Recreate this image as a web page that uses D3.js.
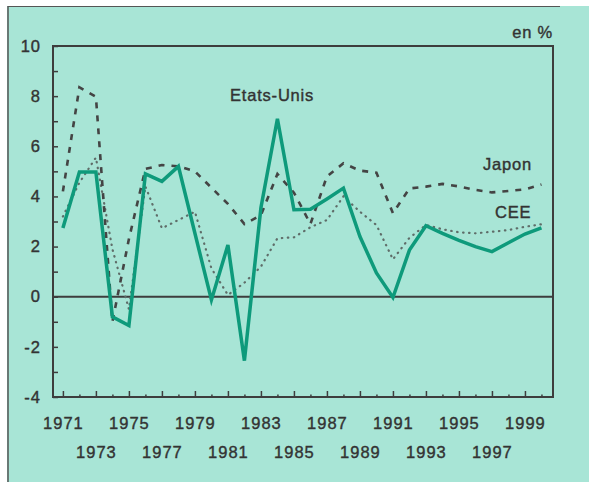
<!DOCTYPE html>
<html>
<head>
<meta charset="utf-8">
<script src="https://cdn.jsdelivr.net/npm/d3@7"></script>
<style>
  body { margin: 0; background: #fff; }
  svg text { font-family: "Liberation Sans", Arial, sans-serif; fill: #333; stroke: #333; stroke-width: 0.4px; }
</style>
</head>
<body>
<script>
// Chart size
const width = 589;
const height = 482;
const margin = { top: 46, right: 36, bottom: 85, left: 53 };

// Data: yearly growth in %
const years = d3.range(1971, 2001);
const etatsUnis = [2.74, 4.97, 4.97, -0.8, -1.15, 4.9, 4.6, 5.2, 2.53, -0.13,
  2.06, -2.55, 3.55, 7.1, 3.47, 3.49, 3.9, 4.33, 2.4, 0.95,
  -0.03, 1.86, 2.83, 2.53, 2.25, 2.0, 1.8, 2.15, 2.5, 2.75];
const japon = [4.2, 8.35, 7.98, -1.0, 2.3, 5.1, 5.25, 5.2, 5.0, 4.35,
  3.7, 2.9, 3.25, 4.9, 4.15, 2.9, 4.8, 5.32, 5.03, 4.95,
  3.33, 4.32, 4.39, 4.5, 4.4, 4.26, 4.16, 4.22, 4.28, 4.48];
const cee = [3.2, 4.55, 5.55, 1.9, -0.5, 4.4, 2.73, 3.06, 3.39, 1.13,
  0.07, 0.56, 1.2, 2.33, 2.37, 2.77, 3.06, 4.0, 3.39, 2.86,
  1.49, 2.35, 2.86, 2.69, 2.57, 2.53, 2.59, 2.66, 2.79, 2.89];
const yTicks = d3.range(-4, 11);
const yLabels = [-4, -2, 0, 2, 4, 6, 8, 10];
const xLabelYears = d3.range(1971, 2000, 2);

const svg = d3.select("body").append("svg")
    .attr("width", width)
    .attr("height", height);

// Scanned page background
svg.append("rect").attr("x", 7).attr("y", 6).attr("width", width - 7).attr("height", height - 6)
    .attr("fill", "#a8e5d6");
svg.append("line").attr("x1", 8).attr("x2", 8).attr("y1", 6).attr("y2", height)
    .attr("stroke", "#555").attr("stroke-width", 1.5);
svg.append("line").attr("x1", 8).attr("x2", 560).attr("y1", 6.5).attr("y2", 6.5)
    .attr("stroke", "#555").attr("stroke-width", 1.2);

const x = d3.scaleLinear()
    .domain([1970.4, 2000.7])
    .range([margin.left, width - margin.right]);
const y = d3.scaleLinear()
    .domain([-4, 10])
    .range([height - margin.bottom, margin.top]);

// Y axis, ticks pointing inward
const yAxis = svg.append("g")
    .attr("transform", `translate(${margin.left},0)`)
    .call(d3.axisLeft(y).tickValues(yTicks).tickSize(-5).tickPadding(12)
        .tickFormat(d => yLabels.includes(d) ? d : ""));

// X axis: long ticks on odd years, short on even years
const xAxis = svg.append("g")
    .attr("transform", `translate(0,${y(-4)})`)
    .call(d3.axisBottom(x).tickValues(xLabelYears).tickSize(-6).tickPadding(20)
        .tickFormat(d3.format("d")));
svg.append("g")
    .attr("transform", `translate(0,${y(-4)})`)
    .call(d3.axisBottom(x).tickValues(years.filter(d => d % 2 === 0)).tickSize(-2.5)
        .tickFormat(""))
    .select(".domain").remove();

svg.selectAll(".tick line").attr("stroke", "#3d3d3d").attr("stroke-width", 1.5);
svg.selectAll(".domain").remove();
svg.selectAll(".tick text")
    .attr("font-size", 16.5)
    .attr("letter-spacing", "1px")
    .attr("fill", "#333");
xAxis.selectAll(".tick text")
    .attr("dy", (d, i) => i % 2 === 0 ? "0.71em" : "2.5em");

// Plot frame and zero line
svg.append("rect")
    .attr("x", margin.left).attr("y", margin.top)
    .attr("width", width - margin.left - margin.right)
    .attr("height", y(-4) - margin.top)
    .attr("fill", "none").attr("stroke", "#3d3d3d").attr("stroke-width", 2);
svg.append("line")
    .attr("x1", margin.left).attr("x2", width - margin.right)
    .attr("y1", y(0)).attr("y2", y(0))
    .attr("stroke", "#3d3d3d").attr("stroke-width", 2);

const line = d3.line()
    .x((d, i) => x(years[i]))
    .y(d => y(d));

svg.append("path").datum(cee)
    .attr("d", line).attr("fill", "none")
    .attr("stroke", "#5f6d69").attr("stroke-width", 2.2)
    .attr("stroke-linecap", "round")
    .attr("stroke-dasharray", "0.5,5.5");

svg.append("path").datum(japon)
    .attr("d", line).attr("fill", "none")
    .attr("stroke", "#444").attr("stroke-width", 2.6)
    .attr("stroke-dasharray", "6,7");

svg.append("path").datum(etatsUnis)
    .attr("d", line).attr("fill", "none")
    .attr("stroke", "#0e9a7b").attr("stroke-width", 3.5)
    .attr("stroke-linejoin", "miter");

// Series labels
const labels = [
  { text: "Etats-Unis", x: 230, y: 101, anchor: "start" },
  { text: "Japon", x: 483, y: 170, anchor: "start" },
  { text: "CEE", x: 495, y: 218, anchor: "start" },
  { text: "en %", x: 553, y: 38, anchor: "end" }
];
svg.selectAll(".lbl").data(labels).enter().append("text")
    .attr("class", "lbl")
    .attr("x", d => d.x).attr("y", d => d.y)
    .attr("text-anchor", d => d.anchor)
    .attr("font-size", 16.5)
    .attr("letter-spacing", "0.8px")
    .text(d => d.text);
</script>
</body>
</html>
